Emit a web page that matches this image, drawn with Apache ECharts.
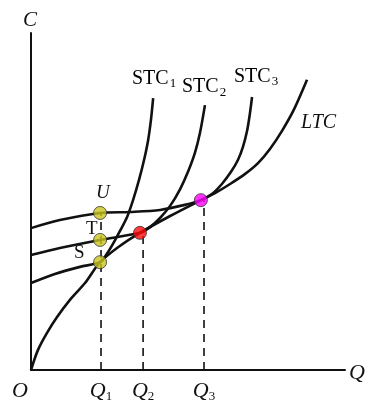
<!DOCTYPE html>
<html>
<head>
<meta charset="utf-8">
<script src="https://cdn.jsdelivr.net/npm/echarts@6/dist/echarts.min.js"></script>
<style>
  html, body { margin: 0; padding: 0; background: #fff; }
  #main { width: 376px; height: 413px; }
</style>
</head>
<body>
<div id="main"></div>
<script>
// ------------------------------
// Cost curves (units, axis 0..100)
// ------------------------------
var ltc = [[0, 0], [2.2, 5.9], [5.1, 11.0], [8.3, 15.7], [12.4, 20.8], [17.2, 25.8], [22, 32],
    [28.3, 36.8], [34.7, 40.7], [44.3, 45.7], [54.1, 50.4], [58.6, 52.5], [63.4, 55.2],
    [68.2, 58.2], [72.3, 61.4], [76.1, 65.6], [79.9, 70.9], [83.8, 77.4], [87.9, 86.1]];
var stc1 = [[0, 25.8], [7.6, 28.5], [15.6, 30.6], [22, 32], [23.9, 34.1], [26.1, 37.4],
    [28.3, 41.2], [30.6, 45.4], [32.5, 50.4], [34.4, 56.4], [36.0, 62.3], [37.3, 68.2],
    [38.2, 74.2], [38.9, 80.7]];
var stc2 = [[0, 34.1], [9.2, 36.2], [22, 38.6], [34.7, 40.7], [37.9, 42.4], [41.1, 45.1],
    [44.3, 48.7], [47.5, 53.7], [50.0, 58.8], [52.2, 64.4], [53.8, 70.3], [55.4, 78.6]];
var stc3 = [[0, 42.1], [9.2, 44.5], [22, 46.6], [31.5, 46.9], [41.1, 47.5], [49.0, 49.0],
    [54.1, 50.4], [57.6, 52.2], [60.8, 55.2], [63.7, 58.8], [65.9, 62.3], [67.5, 66.2],
    [68.8, 70.9], [69.7, 76.0], [70.4, 81.0]];

// tangency / marked points
var pointNames = ['U', 'T', 'S', 'R', 'M'];
var pointX = [22, 22, 22, 34.7, 54.1];
var pointY = [46.6, 38.6, 32, 40.7, 50.4];
var pointColors = ['#c9c41f', '#c9c41f', '#c9c41f', '#ff0a0a', '#ff00ff'];

// dashed drop lines: x, top y
var qNames = ['Q1', 'Q2', 'Q3'];
var qX = [22.3, 35.7, 55.1];
var qTop = [46.6, 40.7, 50.4];

var chart = echarts.init(document.getElementById('main'));

var serif = '"Liberation Serif", "DejaVu Serif", serif';

function curve(name, data) {
    return {
        name: name,
        type: 'line',
        data: data,
        smooth: 0.3,
        showSymbol: false,
        silent: true,
        lineStyle: { color: '#111', width: 2.6 },
        z: 3
    };
}

var series = [
    curve('LTC', ltc),
    curve('STC1', stc1),
    curve('STC2', stc2),
    curve('STC3', stc3)
];

// dashed verticals
qX.forEach(function (x, i) {
    series.push({
        name: qNames[i],
        type: 'line',
        data: [[x, 0], [x, qTop[i]]],
        showSymbol: false,
        silent: true,
        lineStyle: { color: '#111', width: 1.6, type: [8, 6] },
        z: 2
    });
});

// points
series.push({
    name: 'points',
    type: 'scatter',
    symbolSize: 13,
    z: 5,
    data: pointX.map(function (x, i) {
        return {
            value: [x, pointY[i]],
            itemStyle: { color: pointColors[i], borderColor: '#333', borderWidth: 1 }
        };
    })
});

var qLabelMap = { 0: '1', 1: '2', 2: '3' };

var option = {
    animation: false,
    backgroundColor: '#fff',
    grid: { left: 31, right: 31, top: 33, bottom: 43 },
    xAxis: {
        type: 'value',
        min: 0,
        max: 100,
        axisLine: { show: true, onZero: false, lineStyle: { color: '#111', width: 2 } },
        axisTick: { show: false },
        splitLine: { show: false },
        axisLabel: {
            show: true,
            customValues: qX,
            margin: 10,
            formatter: function (v) {
                var i = qX.indexOf(v);
                return '{q|Q}{s|' + qLabelMap[i] + '}';
            },
            rich: {
                q: { fontFamily: serif, fontStyle: 'italic', fontSize: 22, color: '#111' },
                s: { fontFamily: serif, fontSize: 13, color: '#111', verticalAlign: 'bottom', padding: [10, 0, 0, 0] }
            }
        }
    },
    yAxis: {
        type: 'value',
        min: 0,
        max: 100,
        axisLine: { show: true, onZero: false, lineStyle: { color: '#111', width: 2 } },
        axisTick: { show: false },
        splitLine: { show: false },
        axisLabel: { show: false }
    },
    graphic: [
        { type: 'text', left: 23, top: 10, style: { text: 'C', font: 'italic 21px ' + serif, fill: '#111' } },
        { type: 'text', left: 349, top: 362, style: { text: 'Q', font: 'italic 22px ' + serif, fill: '#111' } },
        { type: 'text', left: 12, top: 380, style: { text: 'O', font: 'italic 22px ' + serif, fill: '#111' } },
        { type: 'text', left: 96, top: 183, style: { text: 'U', font: 'italic 19px ' + serif, fill: '#111' } },
        { type: 'text', left: 86, top: 220, style: { text: 'T', font: '19px ' + serif, fill: '#111' } },
        { type: 'text', left: 74, top: 244, style: { text: 'S', font: '19px ' + serif, fill: '#111' } },
        {
            type: 'text', left: 132, top: 69,
            style: {
                text: '{a|STC}{b|1}',
                rich: {
                    a: { fontFamily: serif, fontSize: 20, color: '#111' },
                    b: { fontFamily: serif, fontSize: 13, color: '#111', padding: [9, 0, 0, 1] }
                }
            }
        },
        {
            type: 'text', left: 182, top: 77,
            style: {
                text: '{a|STC}{b|2}',
                rich: {
                    a: { fontFamily: serif, fontSize: 20, color: '#111' },
                    b: { fontFamily: serif, fontSize: 13, color: '#111', padding: [11, 0, 0, 1] }
                }
            }
        },
        {
            type: 'text', left: 234, top: 67,
            style: {
                text: '{a|STC}{b|3}',
                rich: {
                    a: { fontFamily: serif, fontSize: 20, color: '#111' },
                    b: { fontFamily: serif, fontSize: 13, color: '#111', padding: [9, 0, 0, 1] }
                }
            }
        },
        { type: 'text', left: 301, top: 113, style: { text: 'LTC', font: 'italic 20px ' + serif, fill: '#111' } }
    ],
    series: series
};

chart.setOption(option);
</script>
</body>
</html>
